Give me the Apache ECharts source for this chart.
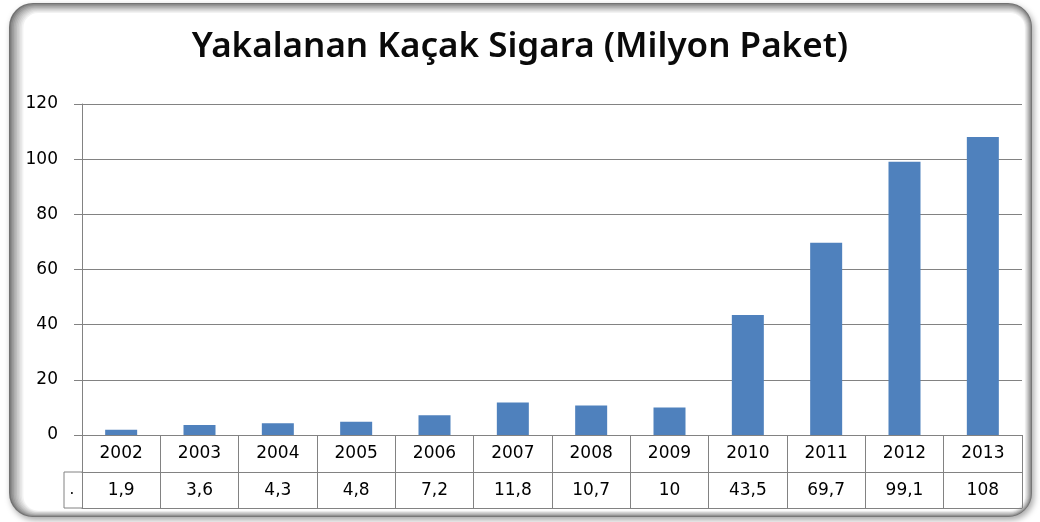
<!DOCTYPE html>
<html>
<head>
<meta charset="utf-8">
<script src="https://cdn.jsdelivr.net/npm/echarts@6/dist/echarts.min.js"></script>
<style>
  html, body { margin: 0; padding: 0; background: #fff; }
  #chart { width: 1040px; height: 522px; }
</style>
</head>
<body>
<div id="chart"></div>
<script>
const years = ["2002", "2003", "2004", "2005", "2006", "2007", "2008", "2009", "2010", "2011", "2012", "2013"];
const seized = [1.9, 3.6, 4.3, 4.8, 7.2, 11.8, 10.7, 10, 43.5, 69.7, 99.1, 108];
const yTicks = { min: 0, max: 120, interval: 20 };

const valueLabels = seized.map((v) => String(v).replace(".", ","));
const lineColor = "#828282";
const labelFont = "DejaVu Sans, sans-serif";

// bevelled frame: nested rounded rects fading from grey to white
const frame = [];
frame.push({
  type: "rect",
  z: -10,
  shape: { x: 9, y: 3, width: 1023, height: 514, r: 24 },
  style: { fill: "#727272", shadowBlur: 6, shadowOffsetX: 2, shadowOffsetY: 3, shadowColor: "rgba(0,0,0,0.35)" }
});
const steps = 9;
for (let i = 1; i <= steps; i++) {
  const c = Math.round(114 + (255 - 114) * Math.pow(i / steps, 0.8));
  frame.push({
    type: "rect",
    z: -10 + i * 0.01,
    shape: { x: 9 + i * 1.6, y: 3 + i * 1.1, width: 1023 - i * 2.4, height: 514 - i * 1.8, r: 24 - i },
    style: { fill: `rgb(${c},${c},${c})` }
  });
}

const chart = echarts.init(document.getElementById("chart"), null, { renderer: "canvas" });

chart.setOption({
  backgroundColor: "#fff",
  animation: false,
  title: {
    text: "Yakalanan Kaçak Sigara (Milyon Paket)",
    left: "center",
    top: 25,
    padding: [5, 5, 5, 19],
    textStyle: { fontFamily: "Noto Sans, sans-serif", fontSize: 35, fontWeight: 600, color: "#0a0a0a" }
  },
  grid: { left: 82, right: 18, top: 104, bottom: 87, containLabel: false },
  xAxis: [
    {
      type: "category",
      data: years,
      position: "bottom",
      axisLine: { lineStyle: { color: lineColor, width: 1 } },
      axisTick: { show: true, alignWithLabel: false, length: 73, lineStyle: { color: lineColor } },
      axisLabel: { color: "#000", fontFamily: labelFont, fontSize: 17, margin: 10 }
    },
    {
      type: "category",
      data: valueLabels,
      position: "bottom",
      offset: 37,
      axisLine: { lineStyle: { color: lineColor, width: 1 } },
      axisTick: { show: false },
      axisLabel: { color: "#000", fontFamily: labelFont, fontSize: 17, margin: 10 }
    },
    {
      type: "category",
      data: years,
      position: "bottom",
      offset: 73,
      axisLine: { lineStyle: { color: lineColor, width: 1 } },
      axisTick: { show: false },
      axisLabel: { show: false }
    }
  ],
  yAxis: {
    type: "value",
    min: yTicks.min,
    max: yTicks.max,
    interval: yTicks.interval,
    axisLine: { show: true, lineStyle: { color: lineColor } },
    axisTick: { show: true, length: 8, lineStyle: { color: lineColor } },
    axisLabel: { color: "#000", fontFamily: labelFont, fontSize: 17, margin: 24 },
    splitLine: { lineStyle: { color: lineColor } }
  },
  series: [
    {
      type: "bar",
      xAxisIndex: 0,
      data: seized,
      barWidth: 32,
      itemStyle: { color: "#4f81bd" }
    }
  ],
  graphic: [
    ...frame,
    // key cell at the left of the value row
    { type: "line", shape: { x1: 64, y1: 472, x2: 82, y2: 472 }, style: { stroke: lineColor, lineWidth: 1 } },
    { type: "line", shape: { x1: 64, y1: 508, x2: 82, y2: 508 }, style: { stroke: lineColor, lineWidth: 1 } },
    { type: "line", shape: { x1: 64, y1: 472, x2: 64, y2: 508 }, style: { stroke: lineColor, lineWidth: 1 } },
    { type: "text", x: 72, y: 490, style: { text: ".", fontFamily: labelFont, fontSize: 15, fill: "#000", align: "center", verticalAlign: "middle" } }
  ]
});
</script>
</body>
</html>
